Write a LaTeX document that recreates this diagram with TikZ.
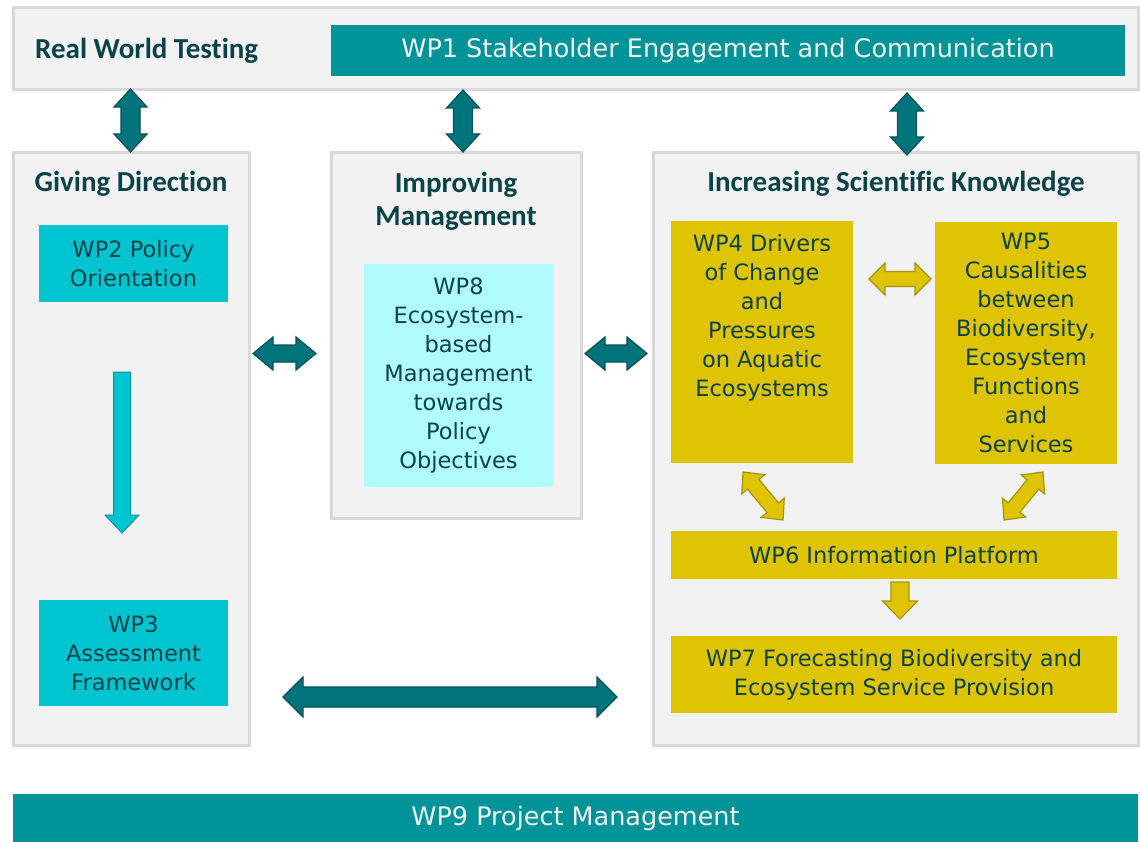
\documentclass[tikz,border=0pt]{standalone}
\usepackage{fontspec}
\usetikzlibrary{calc}
\newfontfamily\wpfont{DejaVu Sans}
\newfontfamily\hdfont[Ligatures=NoCommon]{Carlito}
\definecolor{boxgray}{HTML}{F2F2F2}
\definecolor{bordergray}{HTML}{D9D9D9}
\definecolor{teal1}{HTML}{009398}
\definecolor{wpcyan}{HTML}{00C4CF}
\definecolor{cyandark}{HTML}{0097A0}
\definecolor{lightcyan}{HTML}{B0FBFC}
\definecolor{wpyellow}{HTML}{DFC406}
\definecolor{yellowdark}{HTML}{A8920A}
\definecolor{arrowteal}{HTML}{00747A}
\definecolor{arrowdark}{HTML}{00525A}
\definecolor{txtdark}{HTML}{0A4249}
\newcommand{\dblarrow}[6]{%
  \coordinate (h1) at ($(#1)!#5!(#2)$);
  \coordinate (h2) at ($(#2)!#5!(#1)$);
  \path[#6] (#1) -- ($(h1)!#4!-90:(#2)$) -- ($(h1)!#3!-90:(#2)$) -- ($(h2)!#3!90:(#1)$) -- ($(h2)!#4!90:(#1)$) -- (#2) -- ($(h2)!#4!-90:(#1)$) -- ($(h2)!#3!-90:(#1)$) -- ($(h1)!#3!90:(#2)$) -- ($(h1)!#4!90:(#2)$) -- cycle;}
\newcommand{\sglarrow}[6]{%
  \coordinate (h2) at ($(#2)!#5!(#1)$);
  \path[#6] ($(#1)!#3!90:(#2)$) -- ($(h2)!#3!-90:(#1)$) -- ($(h2)!#4!-90:(#1)$) -- (#2) -- ($(h2)!#4!90:(#1)$) -- ($(h2)!#3!90:(#1)$) -- ($(#1)!#3!-90:(#2)$) -- cycle;}
\tikzset{
  graybox/.style={draw=bordergray, fill=boxgray, line width=3pt, inner sep=0pt},
  wpbox/.style={inner sep=0pt, align=center, text=txtdark, font=\wpfont\fontsize{22.5}{29}\selectfont},
  barbox/.style={fill=teal1, inner sep=0pt, align=center, text=boxgray, font=\wpfont\fontsize{25.5}{29}\selectfont},
  heading/.style={inner sep=0pt, align=center, text=txtdark, font=\hdfont\bfseries\fontsize{29}{33}\selectfont},
  darrow/.style={fill=arrowteal, draw=arrowdark, line width=1.2pt, line join=miter},
  yarrow/.style={fill=wpyellow, draw=yellowdark, line width=1.2pt, line join=miter},
  carrow/.style={fill=wpcyan, draw=cyandark, line width=1pt, line join=miter}
}
\begin{document}
\begin{tikzpicture}[x=1pt, y=-1pt]
\useasboundingbox (0,0) rectangle (1140,842);
% gray containers
\node[graybox, minimum width=1125pt, minimum height=82pt] (top) at (575.5,49) {};
\node[graybox, minimum width=236pt, minimum height=592pt] (left) at (131,449) {};
\node[graybox, minimum width=250pt, minimum height=365pt] (mid) at (456,335.5) {};
\node[graybox, minimum width=485pt, minimum height=592pt] (right) at (895.5,449) {};
% headings
\node[heading, anchor=west] (rwt) at (35,51) {Real World Testing};
\node[heading] (gd) at (131,184) {Giving Direction};
\node[heading] (im) at (456,201.5) {Improving\\Management};
\node[heading] (isk) at (896,184) {Increasing Scientific Knowledge};
% bars
\node[barbox, minimum width=794pt, minimum height=51pt] (wp1) at (728,50.5) {WP1 Stakeholder Engagement and Communication};
\node[barbox, minimum width=1125pt, minimum height=48pt] (wp9) at (575.5,818) {WP9 Project Management};
% WP boxes
\node[wpbox, fill=wpcyan, minimum width=189pt, minimum height=77pt] (wp2) at (133.5,263.5) {WP2 Policy\\Orientation};
\node[wpbox, fill=wpcyan, minimum width=189pt, minimum height=106pt] (wp3) at (133.5,653) {WP3\\Assessment\\Framework};
\node[wpbox, fill=lightcyan, minimum width=189pt, minimum height=223pt] (wp8) at (458.5,375.5) {WP8\\Ecosystem-\\based\\Management\\towards\\Policy\\Objectives};
\node[wpbox, fill=wpyellow, minimum width=182pt, minimum height=242pt] (wp4) at (762,342) {};
\node[wpbox, anchor=north] (wp4t) at (762,234) {WP4 Drivers\\of Change\\and\\Pressures\\on Aquatic\\Ecosystems};
\node[wpbox, fill=wpyellow, minimum width=182pt, minimum height=242pt] (wp5) at (1026,343) {WP5\\Causalities\\between\\Biodiversity,\\Ecosystem\\Functions\\and\\Services};
\node[wpbox, fill=wpyellow, minimum width=446pt, minimum height=48pt] (wp6) at (894,555) {WP6 Information Platform};
\node[wpbox, fill=wpyellow, minimum width=446pt, minimum height=77pt] (wp7) at (894,674.5) {WP7 Forecasting Biodiversity and\\Ecosystem Service Provision};
% arrow end points
\coordinate (a1s) at (130.5,89);  \coordinate (a1e) at (130.5,152);
\coordinate (a2s) at (463,90);    \coordinate (a2e) at (463,152);
\coordinate (a3s) at (907,93);    \coordinate (a3e) at (907,155);
\coordinate (hls) at (253,353.5); \coordinate (hle) at (316,353.5);
\coordinate (hrs) at (585,353.5); \coordinate (hre) at (647,353.5);
\coordinate (bgs) at (283,697);   \coordinate (bge) at (617,697);
\coordinate (y45s) at (869,279);  \coordinate (y45e) at (931,279);
\coordinate (y46s) at (743,472);  \coordinate (y46e) at (783,520);
\coordinate (y56s) at (1043,472); \coordinate (y56e) at (1004,520);
\coordinate (y67s) at (900,582);  \coordinate (y67e) at (900,619);
\coordinate (c23s) at (122,372);  \coordinate (c23e) at (122,533);
% teal arrows
\dblarrow{a1s}{a1e}{9.5pt}{16.5pt}{18pt}{darrow}
\dblarrow{a2s}{a2e}{9.5pt}{16.5pt}{18pt}{darrow}
\dblarrow{a3s}{a3e}{9.5pt}{16.5pt}{18pt}{darrow}
\dblarrow{hls}{hle}{8.5pt}{16.5pt}{20pt}{darrow}
\dblarrow{hrs}{hre}{8.5pt}{16.5pt}{20pt}{darrow}
\dblarrow{bgs}{bge}{10pt}{20pt}{20pt}{darrow}
% yellow arrows
\dblarrow{y45s}{y45e}{7.5pt}{16pt}{16pt}{yarrow}
\dblarrow{y46s}{y46e}{7.5pt}{15pt}{16pt}{yarrow}
\dblarrow{y56s}{y56e}{7.5pt}{15pt}{16pt}{yarrow}
\sglarrow{y67s}{y67e}{9pt}{17.5pt}{18pt}{yarrow}
% cyan arrow
\sglarrow{c23s}{c23e}{8.5pt}{17pt}{18pt}{carrow}
\end{tikzpicture}
\end{document}
